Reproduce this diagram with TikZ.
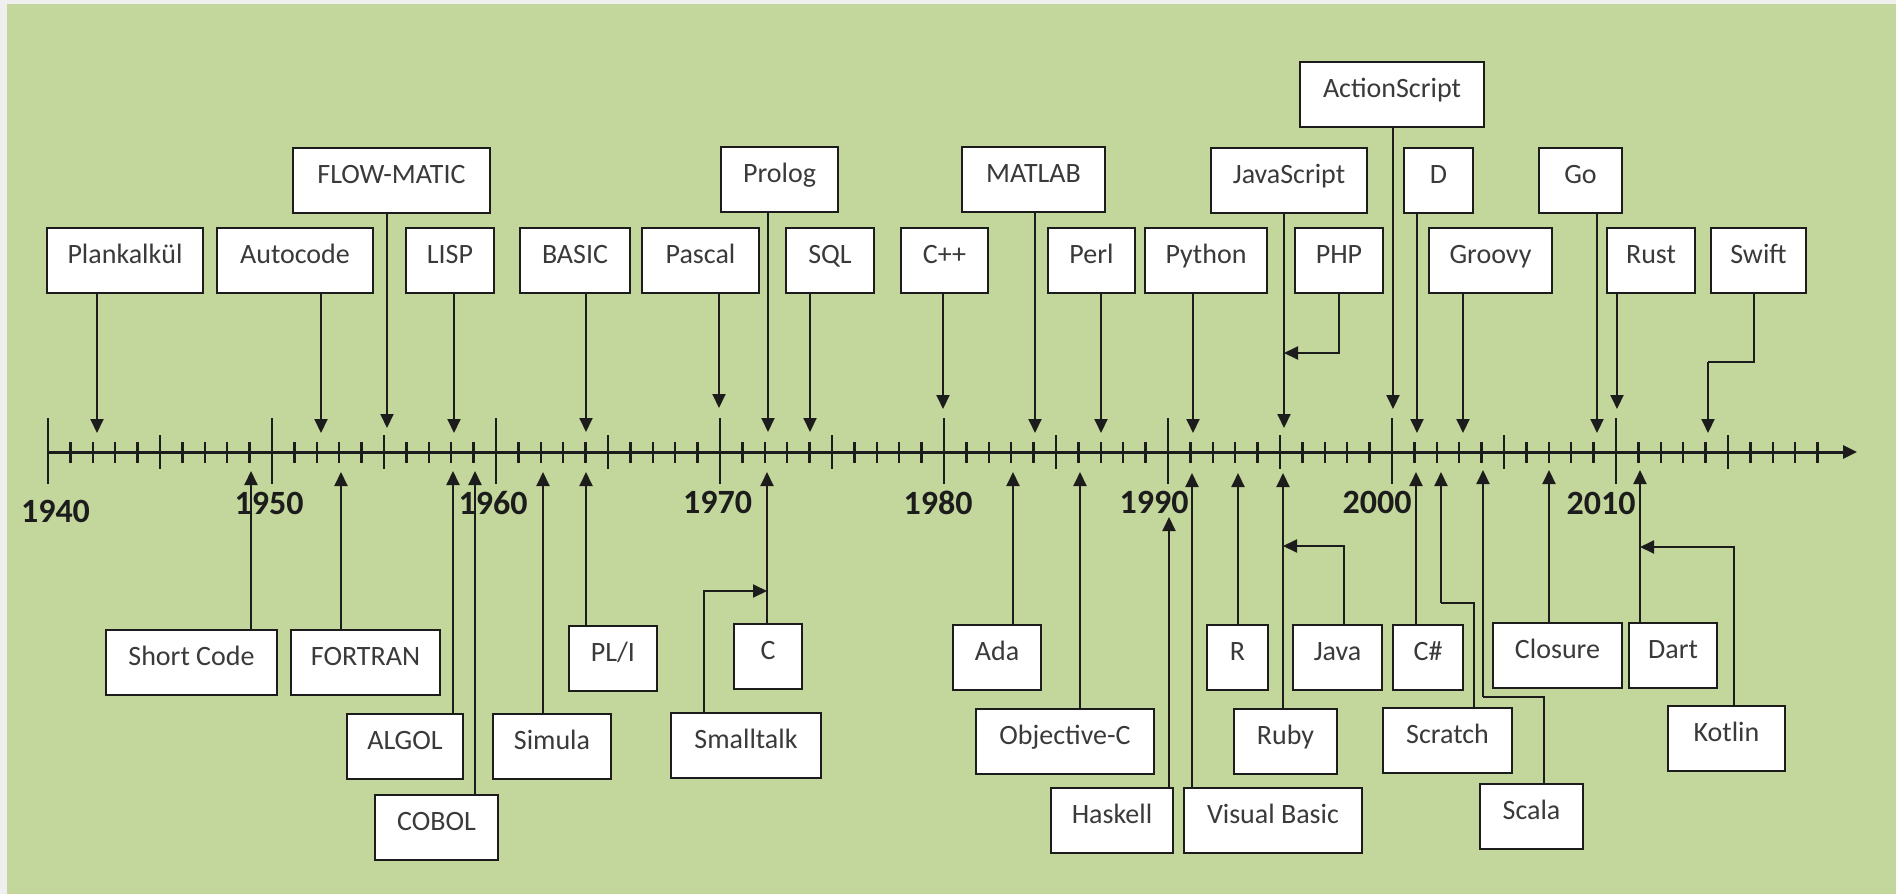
\documentclass[tikz,border=0pt]{standalone}
\usepackage{fontspec}
\setmainfont{Carlito}
\usetikzlibrary{arrows.meta}
\definecolor{bggray}{HTML}{EFEFEF}
\definecolor{bggreen}{HTML}{C3D69B}
\definecolor{ink}{HTML}{1C1C1C}
\definecolor{boxtext}{HTML}{3A3A3A}
\tikzset{
  bx/.style={draw=ink, line width=2pt, fill=white, inner xsep=0pt, inner ysep=0pt,
    outer sep=0pt, text height=35pt, text depth=30pt, anchor=north,
    text=boxtext, font=\fontsize{28}{34}\selectfont},
  conn/.style={ink, line width=2pt, -{Triangle[width=13pt,length=14pt]}},
  axisline/.style={ink, line width=3pt, -{Triangle[width=13pt,length=14pt]}},
  tickline/.style={ink, line width=2.5pt},
  yr/.style={anchor=base, inner sep=0pt, text=ink, font=\fontsize{34}{40}\selectfont\bfseries}
}
\begin{document}
\begin{tikzpicture}[x=1pt, y=-1pt]
\useasboundingbox (0,0) rectangle (1896,894);
\fill[bggray] (0,0) rectangle (1896,894);
\fill[bggreen] (7,4) rectangle (1896,894);

% axis and ticks
\draw[axisline] (48,452) -- (1857,452);
\foreach \i in {0,...,79}{
  \pgfmathtruncatemacro\m{mod(\i,10)}
  \pgfmathtruncatemacro\f{mod(\i,5)}
  \ifnum\m=0 \def\ta{418}\def\tb{484}\else\ifnum\f=0 \def\ta{435}\def\tb{469}\else\def\ta{442}\def\tb{463}\fi\fi
  \draw[tickline] (48+22.4*\i,\ta) -- (48+22.4*\i,\tb);
}

% year labels
\node[yr] (y1940) at (55.5,522) {1940};
\node[yr] (y1950) at (269,514) {1950};
\node[yr] (y1960) at (493,514) {1960};
\node[yr] (y1970) at (717.5,513) {1970};
\node[yr] (y1980) at (938,514) {1980};
\node[yr] (y1990) at (1154,513) {1990};
\node[yr] (y2000) at (1377,513) {2000};
\node[yr] (y2010) at (1601,514) {2010};

% ---- top boxes ----
\node[bx, minimum width=156pt] (plank) at (125,228) {Plankalkül};
\node[bx, minimum width=156pt] (autocode) at (295,228) {Autocode};
\node[bx, minimum width=88pt] (lisp) at (450,228) {LISP};
\node[bx, minimum width=110pt] (basic) at (575,228) {BASIC};
\node[bx, minimum width=117pt] (pascal) at (700.5,228) {Pascal};
\node[bx, minimum width=88pt] (sql) at (830,228) {SQL};
\node[bx, minimum width=87pt] (cpp) at (944.5,228) {C++};
\node[bx, minimum width=87pt] (perl) at (1091.5,228) {Perl};
\node[bx, minimum width=122pt] (python) at (1206,228) {Python};
\node[bx, minimum width=88pt] (php) at (1339,228) {PHP};
\node[bx, minimum width=123pt] (groovy) at (1490.5,228) {Groovy};
\node[bx, minimum width=88pt] (rust) at (1651,228) {Rust};
\node[bx, minimum width=95pt] (swift) at (1758.5,228) {Swift};

\node[bx, minimum width=197pt] (flow) at (391.5,148) {FLOW-MATIC};
\node[bx, minimum width=117pt] (prolog) at (779.5,147) {Prolog};
\node[bx, minimum width=143pt] (matlab) at (1033.5,147) {MATLAB};
\node[bx, minimum width=156pt] (js) at (1289,148) {JavaScript};
\node[bx, minimum width=69pt] (d) at (1438.5,148) {D};
\node[bx, minimum width=83pt] (go) at (1580.5,148) {Go};
\node[bx, minimum width=184pt] (as) at (1392,62) {ActionScript};

% ---- bottom boxes ----
\node[bx, minimum width=171pt] (short) at (191.5,630) {Short Code};
\node[bx, minimum width=149pt] (fortran) at (365.5,630) {FORTRAN};
\node[bx, minimum width=116pt] (algol) at (405,714) {ALGOL};
\node[bx, minimum width=123pt] (cobol) at (436.5,795) {COBOL};
\node[bx, minimum width=118pt] (simula) at (552,714) {Simula};
\node[bx, minimum width=88pt] (pli) at (613,626) {PL/I};
\node[bx, minimum width=68pt] (c) at (768,624) {C};
\node[bx, minimum width=150pt] (small) at (746,713) {Smalltalk};
\node[bx, minimum width=88pt] (ada) at (997,625) {Ada};
\node[bx, minimum width=178pt] (objc) at (1065,709) {Objective-C};
\node[bx, minimum width=122pt] (haskell) at (1112,788) {Haskell};
\node[bx, minimum width=178pt] (vb) at (1273,788) {Visual Basic};
\node[bx, minimum width=61pt] (r) at (1237.5,625) {R};
\node[bx, minimum width=103pt] (ruby) at (1285.5,709) {Ruby};
\node[bx, minimum width=89pt] (java) at (1337.5,625) {Java};
\node[bx, minimum width=70pt] (csharp) at (1428,625) {C\#};
\node[bx, minimum width=129pt] (scratch) at (1447.5,708) {Scratch};
\node[bx, minimum width=103pt] (scala) at (1531.5,784) {Scala};
\node[bx, minimum width=129pt] (closure) at (1557.5,623) {Closure};
\node[bx, minimum width=88pt] (dart) at (1673,623) {Dart};
\node[bx, minimum width=117pt] (kotlin) at (1726.5,706) {Kotlin};

% ---- target coordinates on the axis ----
\coordinate (t-plank) at (97,433);
\coordinate (t-autocode) at (321,433);
\coordinate (t-flow) at (387,428);
\coordinate (t-lisp) at (454,433);
\coordinate (t-basic) at (586,432);
\coordinate (t-pascal) at (719,408);
\coordinate (t-prolog) at (768,432);
\coordinate (t-sql) at (810,432);
\coordinate (t-cpp) at (943,409);
\coordinate (t-matlab) at (1035,433);
\coordinate (t-perl) at (1101,433);
\coordinate (t-python) at (1193,433);
\coordinate (t-js) at (1284,428);
\coordinate (t-as) at (1393,409);
\coordinate (t-d) at (1417,433);
\coordinate (t-groovy) at (1463,433);
\coordinate (t-go) at (1597,433);
\coordinate (t-rust) at (1617,409);
\coordinate (t-swift) at (1708,433);
\coordinate (b-swift) at (1708,362);
\coordinate (j-php) at (1284,353);

\coordinate (t-short) at (251,471);
\coordinate (t-fortran) at (341,472);
\coordinate (t-algol) at (453,471);
\coordinate (t-cobol) at (475,471);
\coordinate (t-simula) at (543,472);
\coordinate (t-pli) at (586,472);
\coordinate (t-c) at (767,472);
\coordinate (j-small) at (767,591);
\coordinate (t-ada) at (1013,472);
\coordinate (t-objc) at (1080,472);
\coordinate (t-haskell) at (1169,517);
\coordinate (t-vb) at (1192,473);
\coordinate (t-r) at (1238,473);
\coordinate (t-ruby) at (1283,473);
\coordinate (j-java) at (1283,546);
\coordinate (t-csharp) at (1416,472);
\coordinate (t-scratch) at (1441,472);
\coordinate (b-scratch) at (1441,603);
\coordinate (t-scala) at (1483,470);
\coordinate (b-scala) at (1483,697);
\coordinate (t-closure) at (1549,470);
\coordinate (t-dart) at (1640,470);
\coordinate (j-kotlin) at (1640,547);

% ---- connectors from top ----
\foreach \n in {plank,autocode,flow,lisp,basic,pascal,prolog,sql,cpp,matlab,perl,python,js,as,d,groovy,go,rust}{
  \draw[conn] (\n.south -| t-\n) -- (t-\n);
}
\draw[conn] (php.south) |- (j-php);
\draw[conn, -] ([xshift=-4.5pt]swift.south) |- (b-swift);
\draw[conn] (b-swift) -- (t-swift);

% ---- connectors from bottom ----
\foreach \n in {short,fortran,algol,cobol,simula,pli,c,ada,objc,haskell,vb,r,ruby,csharp,closure,dart}{
  \draw[conn] (\n.north -| t-\n) -- (t-\n);
}
\draw[conn] ([xshift=-42pt]small.north) |- (j-small);
\draw[conn] ([xshift=6.5pt]java.north) |- (j-java);
\draw[conn, -] ([xshift=26.5pt]scratch.north) |- (b-scratch);
\draw[conn] (b-scratch) -- (t-scratch);
\draw[conn, -] ([xshift=12.5pt]scala.north) |- (b-scala);
\draw[conn] (b-scala) -- (t-scala);
\draw[conn] ([xshift=7.5pt]kotlin.north) |- (j-kotlin);
\end{tikzpicture}
\end{document}
